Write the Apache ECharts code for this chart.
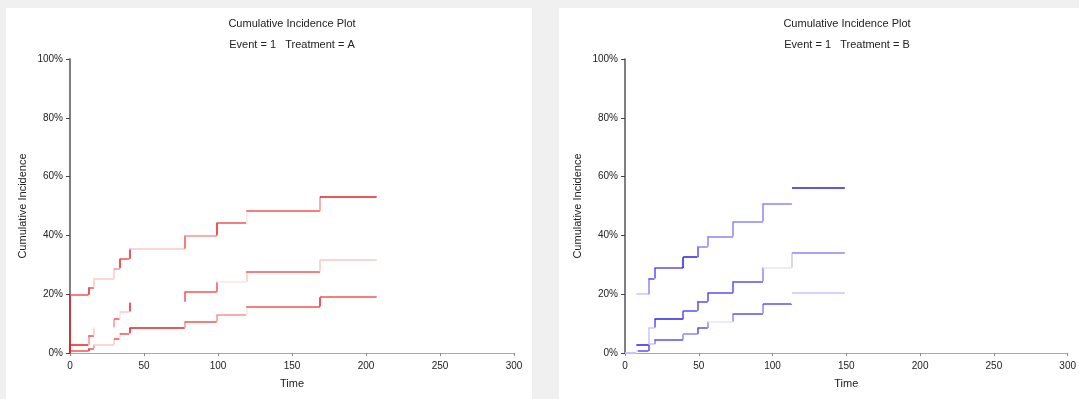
<!DOCTYPE html>
<html>
<head>
<meta charset="utf-8">
<script src="https://cdn.jsdelivr.net/npm/echarts@6/dist/echarts.min.js"></script>
<style>
  html, body { margin: 0; padding: 0; background: #f0f0f0; }
  .panel { position: absolute; background: #ffffff; }
  #chart { position: absolute; left: 0; top: 0; width: 1079px; height: 399px; }
</style>
</head>
<body>
<div class="panel" style="left:6px;top:8px;width:526px;height:391px;"></div>
<div class="panel" style="left:559px;top:8px;width:520px;height:391px;"></div>
<div id="chart"></div>
<script>
// Tick labels
const xTicks = [0, 50, 100, 150, 200, 250, 300];
const yTicks = [0, 20, 40, 60, 80, 100];

// Treatment A: event times, cumulative incidence (%) and confidence limits (%)
const timesA = [0, 12.4, 16.2, 29.7, 33.6, 40.1, 77.5, 99.1, 119.1, 168.9];
const endA = 207.2;
const cifA   = [2.8, 6.0, 8.7, 11.5, 14.1, 17.4, 20.8, 24.2, 27.7, 31.8];
const lowerA = [0.6, 1.6, 2.8, 4.7, 6.7, 8.5, 10.7, 13.1, 15.8, 19.0];
const upperA = [19.8, 22.3, 25.4, 28.8, 32.1, 35.5, 40.0, 44.3, 48.3, 53.2];

// Treatment B
const timesB = [7.7, 16.0, 20.0, 39.4, 49.0, 56.1, 73.3, 93.5, 113.2];
const endB = 149.0;
const cifB   = [2.9, 8.7, 11.5, 14.4, 17.5, 20.6, 24.4, 29.1, 34.0];
const lowerB = [0.7, 3.0, 4.6, 6.4, 8.5, 10.7, 13.4, 16.7, 20.6];
const upperB = [20.0, 25.3, 28.9, 32.6, 36.2, 39.7, 44.8, 50.9, 56.1];

// Segment shading (index into palette): lead = flat start at 0, v = jump, h = flat after jump
const shadeA = {
  upper: { lead: 3, v: [0, 0, 3, 3, 0, 0, 1, 0, 4, 2], h: [1, 1, 3, 2, 1, 3, 2, 1, 1, 0] },
  cif:   { lead: 3, v: [0, 2, 3, 2, 4, 0, 1, 1, 3, 3], h: [0, 1, 5, 1, 3, 5, 1, 4, 1, 3] },
  lower: { lead: 3, v: [0, 0, 2, 3, 4, 0, 2, 2, 4, 0], h: [1, 1, 3, 1, 1, 0, 1, 2, 1, 1] }
};
const shadeB = {
  upper: { lead: 3, v: [5, 2, 1, 0, 1, 2, 2, 2, 5], h: [3, 1, 1, 0, 2, 2, 2, 2, 0] },
  cif:   { lead: 3, v: [5, 3, 1, 1, 1, 1, 1, 2, 3], h: [0, 3, 0, 1, 1, 1, 1, 4, 2] },
  lower: { lead: 3, v: [4, 1, 2, 2, 1, 2, 2, 2, 5], h: [1, 3, 1, 2, 1, 4, 1, 1, 3] }
};
const paletteRed  = ['#e41f24', '#f35353', '#f79393', '#fbc8c8', '#fde6e6', '#ffffff'];
const paletteBlue = ['#2b1ee8', '#5a4ef4', '#8d85f8', '#c8c4fc', '#e6e4fe', '#ffffff'];

const FONT = 'Liberation Sans, Arial, Helvetica, sans-serif';

// Break a step curve into horizontal / vertical pieces, each with its own shade
function stepSegments(times, values, end, shade, palette) {
  const segs = [];
  let prev = 0;
  if (times[0] > 0) {
    segs.push({ coords: [[0, 0], [times[0], 0]], lineStyle: { color: palette[shade.lead] } });
  }
  times.forEach((t, i) => {
    const v = values[i];
    segs.push({ coords: [[t, prev], [t, v]], lineStyle: { color: palette[shade.v[i]] } });
    const next = i < times.length - 1 ? times[i + 1] : end;
    segs.push({ coords: [[t, v], [next, v]], lineStyle: { color: palette[shade.h[i]] } });
    prev = v;
  });
  return segs;
}

function curveSeries(name, segs, gridIdx) {
  return {
    name: name,
    type: 'lines',
    coordinateSystem: 'cartesian2d',
    xAxisIndex: gridIdx,
    yAxisIndex: gridIdx,
    polyline: false,
    silent: true,
    lineStyle: { width: 1.5, opacity: 1, cap: 'butt' },
    data: segs
  };
}

const grids = [
  { left: 70, top: 59, width: 444, height: 294 },
  { left: 625, top: 59, width: 444, height: 294 }
];

function xAxisFor(i) {
  return {
    gridIndex: i, type: 'value', min: xTicks[0], max: xTicks[xTicks.length - 1], interval: 50,
    name: 'Time', nameLocation: 'middle', nameGap: 25,
    nameTextStyle: { fontFamily: FONT, fontSize: 11, color: '#222' },
    axisLine: { show: true, lineStyle: { color: '#aaaaaa', width: 1 } },
    axisTick: { show: true, length: 3, lineStyle: { color: '#888888' } },
    axisLabel: { fontFamily: FONT, fontSize: 10, color: '#222', margin: 8 },
    splitLine: { show: false }
  };
}
function yAxisFor(i) {
  return {
    gridIndex: i, type: 'value', min: yTicks[0], max: yTicks[yTicks.length - 1], interval: 20,
    name: 'Cumulative Incidence', nameLocation: 'middle', nameGap: 42, nameRotate: 90,
    nameTextStyle: { fontFamily: FONT, fontSize: 11, color: '#222' },
    axisLine: { show: true, lineStyle: { color: '#555555', width: 1.5 } },
    axisTick: { show: true, length: 4, lineStyle: { color: '#444444' } },
    axisLabel: { fontFamily: FONT, fontSize: 10, color: '#222', margin: 7, formatter: '{value}%' },
    splitLine: { show: false }
  };
}

function titleText(x, y, text) {
  return {
    type: 'text', x: x, y: y, silent: true,
    style: { text: text, fontFamily: FONT, fontSize: 11, fill: '#222', textAlign: 'center', textVerticalAlign: 'middle' }
  };
}

const chart = echarts.init(document.getElementById('chart'), null, { renderer: 'canvas' });
chart.setOption({
  backgroundColor: 'transparent',
  animation: false,
  grid: grids,
  xAxis: [xAxisFor(0), xAxisFor(1)],
  yAxis: [yAxisFor(0), yAxisFor(1)],
  graphic: [
    titleText(292, 24, 'Cumulative Incidence Plot'),
    titleText(292, 45, 'Event = 1   Treatment = A'),
    titleText(847, 24, 'Cumulative Incidence Plot'),
    titleText(847, 45, 'Event = 1   Treatment = B')
  ],
  series: [
    curveSeries('Upper A', stepSegments(timesA, upperA, endA, shadeA.upper, paletteRed), 0),
    curveSeries('Lower A', stepSegments(timesA, lowerA, endA, shadeA.lower, paletteRed), 0),
    curveSeries('CIF A', stepSegments(timesA, cifA, endA, shadeA.cif, paletteRed), 0),
    curveSeries('Upper B', stepSegments(timesB, upperB, endB, shadeB.upper, paletteBlue), 1),
    curveSeries('Lower B', stepSegments(timesB, lowerB, endB, shadeB.lower, paletteBlue), 1),
    curveSeries('CIF B', stepSegments(timesB, cifB, endB, shadeB.cif, paletteBlue), 1)
  ]
});
</script>
</body>
</html>
